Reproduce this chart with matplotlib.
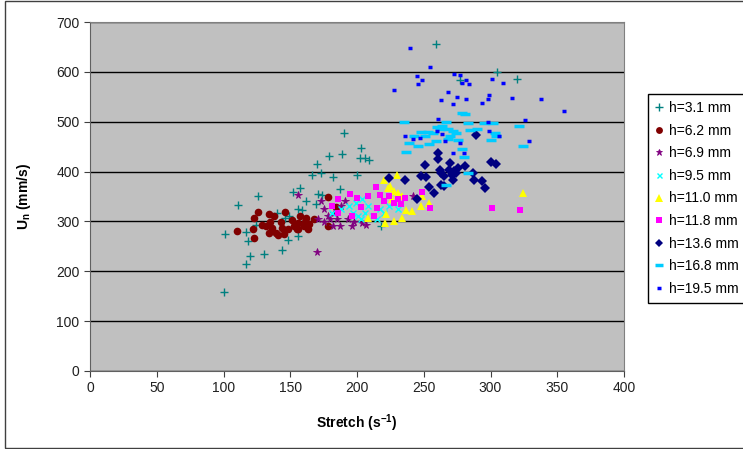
import matplotlib
matplotlib.use("Agg")
import matplotlib.pyplot as plt
from matplotlib.patches import Rectangle

plt.rcParams['font.family'] = ['Liberation Sans', 'DejaVu Sans']
plt.rcParams['mathtext.fontset'] = 'custom'
plt.rcParams['mathtext.rm'] = 'Liberation Sans'
plt.rcParams['mathtext.bf'] = 'Liberation Sans:bold'

# data: (stretch, Un) per tube diameter
h31_x = [100, 101, 111, 117, 118, 117, 120, 130, 126, 144, 148, 152, 157, 156, 156, 149, 159, 162,
         166, 170, 173, 169, 171, 174, 179, 182, 187, 190, 189, 200, 202, 203, 206, 209, 218,
         259, 277, 305, 320, 124, 146, 140]
h31_y = [159, 275, 333, 279, 260, 214, 230, 234, 351, 242, 262, 359, 367, 271, 324, 310, 322, 341,
         394, 416, 398, 334, 355, 353, 432, 390, 365, 478, 435, 394, 428, 448, 427, 423, 291,
         655, 584, 600, 585, 293, 307, 317]

h62_x = [110, 122, 123, 123, 126, 129, 132, 134, 135, 134, 138, 136, 139, 141, 143, 144, 145, 146,
         148, 151, 153, 155, 156, 157, 156, 160, 161, 163, 164, 162, 168, 178, 178, 184]
h62_y = [281, 284, 267, 307, 318, 292, 291, 314, 299, 277, 311, 287, 277, 272, 299, 287, 274, 319,
         284, 303, 291, 285, 296, 310, 284, 291, 299, 285, 295, 307, 304, 291, 349, 329]

h69_x = [156, 170, 171, 173, 175, 178, 180, 182, 187, 191, 193, 196, 198, 204, 207, 183, 188, 185,
         242, 175]
h69_y = [353, 238, 304, 341, 324, 311, 304, 291, 291, 341, 304, 291, 299, 296, 292, 317, 331, 304,
         351, 299]

h95_x = [181, 188, 194, 197, 201, 203, 206, 208, 212, 215, 217, 220, 224, 228, 231, 199, 204]
h95_y = [317, 324, 331, 317, 311, 304, 317, 331, 311, 304, 324, 317, 331, 337, 324, 337, 344]

h110_x = [220, 223, 225, 230, 226, 228, 231, 234, 221, 228, 234, 237, 241, 248, 249, 254, 208, 222,
          324]
h110_y = [384, 367, 372, 394, 344, 361, 357, 351, 296, 300, 307, 323, 321, 331, 351, 337, 307, 314,
          357]

h118_x = [181, 186, 195, 200, 203, 208, 214, 217, 220, 224, 213, 215, 196, 186, 228, 231, 236, 233,
          249, 255, 301, 322]
h118_y = [331, 344, 355, 347, 329, 351, 369, 354, 341, 351, 311, 327, 311, 317, 337, 344, 347, 334,
          359, 327, 327, 322]

h136_x = [224, 236, 245, 248, 251, 252, 254, 258, 261, 261, 262, 263, 265, 263, 265, 269, 270, 271,
          272, 273, 274, 276, 281, 287, 288, 289, 294, 296, 300, 304]
h136_y = [387, 383, 344, 391, 413, 389, 369, 358, 438, 426, 403, 397, 391, 374, 371, 404, 417, 394,
          384, 401, 397, 407, 411, 397, 384, 474, 381, 367, 419, 416]

h168_x = [235, 237, 239, 243, 246, 248, 251, 253, 254, 257, 259, 260, 262, 264, 267, 268, 270, 272,
          274, 276, 279, 281, 283, 279, 280, 283, 267, 268, 285, 290, 295, 302, 303, 304, 300, 321,
          324]
h168_y = [499, 440, 458, 471, 451, 479, 471, 479, 456, 477, 461, 489, 486, 491, 500, 486, 472, 481,
          478, 464, 518, 516, 498, 446, 430, 397, 374, 466, 484, 486, 498, 498, 478, 472, 463, 492,
          451]

h195_x = [240, 255, 228, 245, 246, 249, 263, 268, 272, 273, 277, 275, 279, 282, 284, 282, 294, 298,
          299, 301, 309, 316, 338, 355, 326, 329, 261, 236, 242, 247, 260, 264, 266, 272, 277, 280,
          298, 299, 306]
h195_y = [647, 609, 564, 592, 575, 583, 544, 559, 536, 596, 593, 549, 578, 584, 576, 546, 538, 546,
          554, 586, 578, 547, 546, 522, 503, 462, 506, 472, 466, 468, 481, 476, 461, 438, 458, 438,
          499, 481, 472]

series = [
    ("h=3.1 mm", h31_x, h31_y, dict(marker='+', color='#008080', ms=6, mew=1.0)),
    ("h=6.2 mm", h62_x, h62_y, dict(marker='o', color='#800000', ms=5.5, mew=0)),
    ("h=6.9 mm", h69_x, h69_y, dict(marker='*', color='#800080', ms=5.5, mew=0.6)),
    ("h=9.5 mm", h95_x, h95_y, dict(marker='x', color='#00FFFF', ms=4, mew=1.0)),
    ("h=11.0 mm", h110_x, h110_y, dict(marker='^', color='#FFFF00', ms=6, mew=0)),
    ("h=11.8 mm", h118_x, h118_y, dict(marker='s', color='#FF00FF', ms=5, mew=0)),
    ("h=13.6 mm", h136_x, h136_y, dict(marker='D', color='#000080', ms=5, mew=0)),
    ("h=16.8 mm", h168_x, h168_y, dict(marker='_', color='#00CCFF', ms=6.5, mew=2.5)),
    ("h=19.5 mm", h195_x, h195_y, dict(marker='_', color='#0000FF', ms=3.5, mew=2.5)),
]

fig = plt.figure(figsize=(7.43, 4.49), dpi=100)
ax = fig.add_axes([90/743, 78/449, 534/743, 349/449])
ax.set_facecolor('#C0C0C0')

for label, xs, ys, st in series:
    ax.plot(xs, ys, linestyle='none', label=label, **st)

ax.set_xlim(0, 400)
ax.set_ylim(0, 700)
ax.set_xticks(range(0, 401, 50))
ax.set_yticks(range(0, 701, 100))
ax.yaxis.grid(True, color='black', linewidth=1)
ax.set_axisbelow(True)
ax.tick_params(labelsize=10, length=4, color='#404040', labelcolor='#202020')
for side in ['top', 'right']:
    ax.spines[side].set_color('#808080')
for side in ['left', 'bottom']:
    ax.spines[side].set_color('#606060')

ax.set_xlabel(r"Stretch (s$^{\mathbf{-1}}$)", fontsize=10, fontweight='bold', labelpad=12)
ax.set_ylabel(r"U$_{\mathbf{n}}$ (mm/s)", fontsize=10, fontweight='bold', labelpad=17)

leg = fig.legend(loc='upper left', bbox_to_anchor=(648/743, 355/449), fontsize=10,
                 frameon=True, fancybox=False, edgecolor='black', framealpha=1,
                 handlelength=0.6, handletextpad=0.4, labelspacing=0.62, borderpad=0.5,
                 borderaxespad=0, markerscale=0.9)
leg.get_frame().set_linewidth(1.0)

fig.patches.append(Rectangle((5/743, 1/449), 1.0, 447/449, transform=fig.transFigure,
                             fill=False, edgecolor='#404040', linewidth=1))

fig.savefig('out.png', dpi=100)
